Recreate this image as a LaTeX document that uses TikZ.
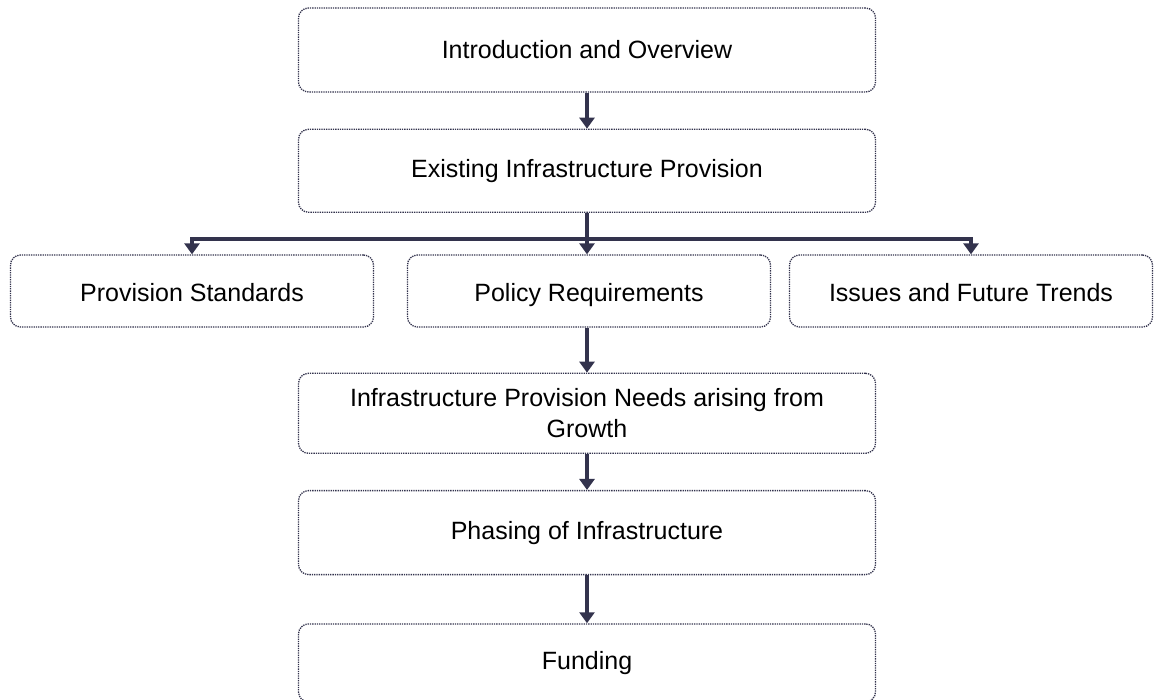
\documentclass[tikz,border=0pt]{standalone}
\usepackage{fontspec}
\setmainfont{Liberation Sans}
\usepackage{tikz}
\usetikzlibrary{
	arrows.meta,
	positioning
}
\definecolor{linkblue}{RGB}{51,51,77}
\tikzset{
	stage/.style={
		draw=linkblue,
		densely dotted,
		line width=1.3pt,
		rounded corners=10pt,
		minimum width=577pt,
		minimum height=84pt,
		align=center,
		font=\fontsize{25}{31}\selectfont
	},
	substage/.style={
		stage,
		minimum width=363pt,
		minimum height=72pt,
		text height=22pt,
		text depth=1pt
	},
	flow/.style={
		draw=linkblue,
		line width=4pt,
		-{Triangle[width=15pt,length=11pt]}
	}
}
\begin{document}
\begin{tikzpicture}[x=1pt,y=1pt]
	\useasboundingbox (0,0) rectangle (1159,-700);
	\node [stage]                              (intro)     at (587,-50) {Introduction and Overview};
	\node [stage,minimum height=83pt,below=36pt of intro] (existing) {Existing Infrastructure Provision};

	\node [substage] (policy)    at (589,-291) {Policy Requirements};
	\node [substage] (standards) at (192,-291) {Provision Standards};
	\node [substage] (issues)    at (971,-291) {Issues and Future Trends};

	\node [stage,minimum height=80pt,below=45pt of policy.south -| intro.south,anchor=north] (needs)
		{Infrastructure Provision Needs arising from\\Growth};
	\node [stage,below=36pt of needs]                      (phasing) {Phasing of Infrastructure};
	\node [stage,minimum height=78pt,below=48pt of phasing] (funding) {Funding};

	% arrows between the stages
	\draw [flow] (intro.south) -- (existing.north);
	\draw [flow] (existing.south) -- (existing.south |- policy.north);
	\draw [flow] (existing.south) -- ++(0,-26) -| (standards.north);
	\draw [flow] (existing.south) -- ++(0,-26) -| (issues.north);
	\draw [flow] (needs.north |- policy.south) -- (needs.north);
	\draw [flow] (needs.south) -- (phasing.north);
	\draw [flow] (phasing.south) -- (funding.north);
\end{tikzpicture}
\end{document}
